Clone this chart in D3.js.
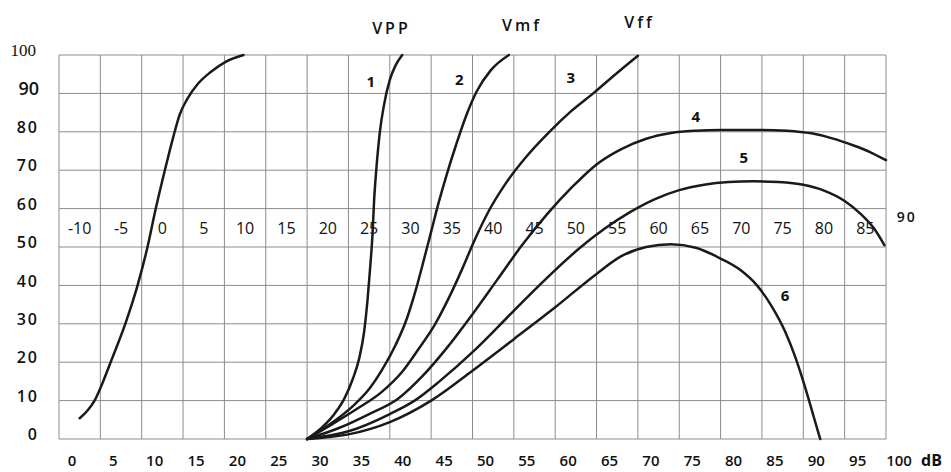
<!DOCTYPE html>
<html>
<head>
<meta charset="utf-8">
<script src="https://cdn.jsdelivr.net/npm/d3@7"></script>
<style>
  body { margin: 0; background: #fff; }
  svg { display: block; }
</style>
</head>
<body>
<svg id="chart" width="951" height="472"></svg>
<script>
// tick values
const yTicks = [0, 10, 20, 30, 40, 50, 60, 70, 80, 90, 100]
const xTicks = [0, 5, 10, 15, 20, 25, 30, 35, 40, 45, 50, 55, 60, 65, 70, 75, 80, 85, 90, 95, 100]
const midTicks = [-10, -5, 0, 5, 10, 15, 20, 25, 30, 35, 40, 45, 50, 55, 60, 65, 70, 75, 80, 85, 90]

// curves, [dB, value]
const curveLeft = [[2.5, 5.4], [3.4, 7.3], [4.3, 10], [5.3, 14.8], [6.3, 20.3], [8.1, 30.5], [9.5, 40],
  [10.7, 50], [11.7, 60], [12.8, 70], [13.8, 78.5], [14.6, 84.5], [15.5, 88.5], [16.8, 92.5], [18.3, 95.5],
  [20.2, 98.3], [22.3, 100]]
const curve1 = [[30, 0], [31.8, 3], [33.3, 6.5], [34.5, 10.5], [35.5, 15.5], [36.3, 21], [36.9, 28],
  [37.3, 36], [37.6, 44], [37.9, 53], [38.1, 62], [38.4, 71], [38.8, 80], [39.3, 87], [40, 93.5],
  [40.7, 97.3], [41.5, 100]]
const curve2 = [[30, 0], [33, 4.2], [35.5, 8.5], [37.5, 13], [39.2, 18.5], [40.7, 24.5], [42, 31],
  [43.1, 38.5], [44.1, 46.5], [45, 54], [45.9, 61.5], [46.9, 69], [48, 76.5], [49.2, 84], [50.5, 90.5],
  [52.2, 96], [54.4, 100]]
const curve3 = [[30, 0], [33, 3.8], [36, 7.8], [39, 12.2], [41.5, 17.5], [43.5, 23.5], [45.5, 30],
  [47.2, 37], [48.8, 44.5], [50.3, 52], [52, 59.5], [54, 66.5], [56.5, 73.5], [59.3, 80], [62, 85.5],
  [64.7, 90.2], [67.3, 95], [70, 99.8]]
const curve4 = [[30, 0], [34, 3], [37.5, 6.5], [41, 10.5], [44, 16.5], [47, 24], [50, 32.5], [53, 41.5],
  [56, 50.5], [59, 58.5], [62, 65.5], [65, 71.5], [68, 75.5], [71, 78.2], [74, 79.7], [77, 80.3],
  [80, 80.5], [85, 80.5], [88, 80.3], [91, 79.6], [93.5, 78.3], [96, 76.5], [98, 74.8], [100, 72.6]]
const curve5 = [[30, 0], [35, 2], [40, 6.5], [43, 10], [46, 15], [50, 22.6], [53, 29], [56, 35.6],
  [60, 44], [63, 49.8], [66, 54.8], [69, 59], [72, 62.4], [75, 64.8], [78, 66.2], [81, 66.9], [84, 67.1],
  [87, 66.9], [90, 66.2], [92.5, 64.7], [95, 62], [97, 58.5], [98.5, 55], [99.8, 50.5]]
const curve6 = [[30, 0], [35, 1.2], [40, 4.4], [45, 10], [50, 17.8], [55, 26], [60, 34.3], [65, 43],
  [68, 47.6], [71, 50], [74, 50.7], [77, 49.8], [80, 47], [82.4, 44], [84.4, 40], [86.2, 34.5],
  [87.8, 28], [89, 21.5], [90, 15], [90.9, 8.5], [91.7, 2.5], [92.05, 0]]
const curves = [curveLeft, curve1, curve2, curve3, curve4, curve5, curve6]

const curveLabels = ["1", "2", "3", "4", "5", "6"]
const curveLabelAt = [[37.7, 92.8], [48.4, 93.3], [61.9, 93.8], [77, 83.6], [82.8, 73], [87.8, 37]]

const topNames = ["VPP", "Vmf", "Vff"]
const topNameDb = [40.2, 56, 70.2]

const svg = d3.select("#chart")
const x = d3.scaleLinear([0, 100], [59, 886])
const y = d3.scaleLinear([0, 100], [439, 55])
// the middle row of numbers sits in the column centres, shifted by -10
const xMid = d3.scaleLinear([-12.5, 87.5], [x(0), x(100)])

const gridColor = "#8c8c8c"

// grid
svg.append("g")
  .selectAll("line")
  .data(xTicks)
  .join("line")
  .attr("x1", d => x(d)).attr("x2", d => x(d))
  .attr("y1", y(0)).attr("y2", y(100))
  .attr("stroke", gridColor)
  .attr("stroke-width", 1)

svg.append("g")
  .selectAll("line")
  .data(yTicks)
  .join("line")
  .attr("x1", x(0)).attr("x2", x(100))
  .attr("y1", d => y(d)).attr("y2", d => y(d))
  .attr("stroke", gridColor)
  .attr("stroke-width", 1)

// y labels
svg.append("g")
  .selectAll("text")
  .data(yTicks)
  .join("text")
  .attr("x", d => d == 100 ? 36 : 39)
  .attr("y", d => y(d) - 3)
  .attr("text-anchor", "end")
  .attr("dominant-baseline", "middle")
  .attr("font-family", d => d == 100 ? "Liberation Serif" : "Open Sans")
  .attr("font-size", d => d == 100 ? 17 : (d == 90 ? 18 : 16))
  .attr("font-weight", d => d == 100 ? 400 : 600)
  .attr("letter-spacing", d => d == 100 || d == 90 ? 0 : 2)
  .attr("fill", "#111")
  .text(d => d)

// bottom x labels
svg.append("g")
  .selectAll("text")
  .data(xTicks)
  .join("text")
  .attr("x", d => x(d) + 13)
  .attr("y", 462)
  .attr("text-anchor", "middle")
  .attr("dominant-baseline", "middle")
  .attr("font-family", "Open Sans")
  .attr("font-size", 15)
  .attr("font-weight", 600)
  .attr("fill", "#111")
  .text(d => d)

svg.append("text")
  .attr("x", 921).attr("y", 462)
  .attr("dominant-baseline", "middle")
  .attr("font-family", "Open Sans")
  .attr("font-size", 16)
  .attr("font-weight", 700)
  .attr("fill", "#111")
  .text("dB")

// middle row labels
svg.append("g")
  .selectAll("text")
  .data(midTicks)
  .join("text")
  .attr("x", d => xMid(d))
  .attr("y", d => d == 90 ? y(57.5) : y(54.5))
  .attr("text-anchor", "middle")
  .attr("dominant-baseline", "middle")
  .attr("font-family", "Open Sans")
  .attr("font-size", d => d == 90 ? 14 : 16)
  .attr("font-weight", d => d == 90 ? 600 : 400)
  .attr("letter-spacing", d => d == 90 ? 2 : 0)
  .attr("fill", "#111")
  .text(d => d)

// curves
const line = d3.line()
  .x(d => x(d[0]))
  .y(d => y(d[1]))
  .curve(d3.curveMonotoneX)

svg.append("g")
  .selectAll("path")
  .data(curves)
  .join("path")
  .attr("d", line)
  .attr("fill", "none")
  .attr("stroke", "#1a1a1a")
  .attr("stroke-width", 2.5)
  .attr("stroke-linecap", "round")
  .attr("stroke-linejoin", "round")

// curve numbers
svg.append("g")
  .selectAll("text")
  .data(curveLabels)
  .join("text")
  .attr("x", (d, i) => x(curveLabelAt[i][0]))
  .attr("y", (d, i) => y(curveLabelAt[i][1]))
  .attr("text-anchor", "middle")
  .attr("dominant-baseline", "middle")
  .attr("font-family", "Open Sans")
  .attr("font-size", 15)
  .attr("font-weight", 700)
  .attr("fill", "#111")
  .text(d => d)

// names above
svg.append("g")
  .selectAll("text")
  .data(topNames)
  .join("text")
  .attr("x", (d, i) => x(topNameDb[i]))
  .attr("y", (d, i) => 34 - i * 3)
  .attr("text-anchor", "middle")
  .attr("font-family", "Open Sans")
  .attr("font-size", 16)
  .attr("font-weight", 600)
  .attr("letter-spacing", 3)
  .attr("fill", "#111")
  .text(d => d)
</script>
</body>
</html>
